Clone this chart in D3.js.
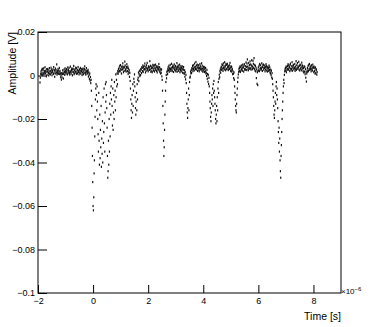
<!DOCTYPE html>
<html>
<head>
<script src="https://cdnjs.cloudflare.com/ajax/libs/d3/7.8.5/d3.min.js"></script>
<style>
    body { margin: 0; background: #fff; }
    text { font-family: "Liberation Sans", Arial, sans-serif; fill: #000; }
</style>
</head>
<body>
<svg width="379" height="327"></svg>
<script>
    // digitizer samples, amplitude in mV, one sample every 12.12 ns
    var samplePeriod = 0.01212; // us

    var base1 = [-3.2,-1.0,0.8, 1.9,0.4,2.6, 1.2,3.1,0.2, 2.4,1.0,3.3, 0.6,2.0,1.4, 3.8,0.9,2.2, 1.6,-0.4,2.9, 0.3,1.8,3.0,
        2.5,1.1,0.0, 1.7,3.4,0.8, 2.2,0.5,1.9, 3.6,1.3,2.7, 0.1,2.1,1.5, 2.8,0.7,3.9, 1.0,2.4,-0.6, 1.9,3.2,0.9,
        2.6,1.4,5.1, 0.4,2.0,1.2, 3.0,0.8,2.3, 1.5,3.5,0.6, 2.1,1.0,-0.8, 0.2,-1.9,1.1, -0.9,0.6,2.4, 1.3,-1.4,0.7,
        2.7,1.6,0.3, 3.3,2.2,1.4, 0.9,3.0,1.8, 2.4,0.5,3.7, 1.1,2.6,1.9, 3.5,1.2,0.4, 2.0,4.1,1.6, 0.8,2.5,3.2,
        1.7,0.1,2.8, 3.1,1.5,4.4, 0.6,2.3,1.0, 2.9,1.8,3.6, 1.4,3.3,0.7, 2.2,1.0,2.6, 3.9,1.6,2.0, 0.5,2.8,1.3,
        2.4,3.5,0.9, 1.8,2.1,3.0, 0.2,1.4,2.7, 3.2,0.6,1.9, 1.1,2.9,4.2, 2.5,1.3,0.4, 1.6,3.4,2.2, 0.8,2.0,1.2,
        2.6,-0.5,1.5, 0.3,-1.6,0.9, -2.4,-0.7,-3.5];
    var pulse1 = [-2,-7,-14, -24,-37,-49, -60,-62,-56, -45,-39,-28, -19,-11,-6,
        -4,-9,-16, -5,-12,-20,
        -27,-35,-8, -30,-41,-18, -38,-25,-33, -14,-42,-29, -36,-21,-40, -10,-31,-26, -6,-22,-35, -17,-4,-12,
        -3,-9,-15,
        -24,-37,-47, -44,-30,-41, -20,-35,-13, -28,-8,-18, -5,-11,-2,
        -14,-23,-6, -25,-17,-9, -20,-3,-12, -7,-16,0.5, -10,-2,-5, 1.0,-4,2.0];
    var base2 = [0.8,2.9,1.7, 3.6,2.2,4.4, 1.9,4.8,3.1, 2.6,0.9,3.9, 4.2,2.8,5.6, 3.3,1.5,4.0,
        2.1,3.7,6.4, 4.6,2.4,3.0, 1.8,3.9,5.2, 3.4,2.0,4.1, 0.7,3.2,1.6, 2.5,-0.6,1.2];
    var pulse2 = [-2.5,-6,-11, -16,-19.5,-13, -9,-17,-4, -14,-7,-1.5, -3,0.5,-5, -10,-15,-18, -12,-8,-16, -4,-11,-2];
    var base3 = [-1.0,1.4,-2.6, 0.6,2.2,-0.3, 1.9,0.2,3.0, 2.7,1.1,3.8,
        3.5,2.0,4.6, 1.6,3.8,2.7, 4.3,2.9,5.5, 3.0,1.4,4.0, 2.2,4.7,3.4, 5.8,3.1,2.5, 1.9,4.2,3.6, 3.9,2.6,6.6,
        2.8,4.5,1.7, 4.1,3.3,2.0, 1.5,3.7,4.9, 3.2,2.3,4.4, 4.8,1.8,3.5, 2.6,5.0,3.0, 3.9,2.1,4.3, 1.4,3.6,2.7,
        4.0,2.9,5.3, 2.3,3.8,1.6, 3.1,0.9,2.4, 1.2,2.8,-0.4];
    var pulse3 = [-2.0,-7,-14, -22,-30,-37, -33,-25,-18, -12,-7,-3];
    var base4 = [0.2,-1.3,1.5, 2.1,0.6,3.0,
        3.8,2.4,4.5, 1.7,3.3,2.6, 4.9,3.0,2.1, 3.6,5.4,2.8, 2.0,3.9,4.6, 3.3,1.6,4.1, 5.1,2.7,3.5, 2.4,4.4,1.9,
        3.7,2.9,5.7, 1.8,4.0,3.1, 4.6,2.2,3.8, 2.9,5.0,1.5, 3.4,2.5,4.3, 1.9,3.6,2.8, 4.2,1.3,3.0, 2.6,3.9,1.1,
        0.8,2.4,-0.6, 1.5,-1.8,0.3];
    var pulse4 = [-3.5,-8,-13, -17,-19.5,-15, -11,-6,-16, -9,-3,-1];
    var base5 = [-0.5,1.8,0.9, 2.5,1.2,3.4,
        3.1,4.4,2.0, 4.8,2.9,3.6, 2.3,5.5,3.8, 4.1,3.0,6.2, 2.7,4.6,3.3, 5.0,2.1,3.9, 3.5,4.7,2.6, 1.9,3.4,5.3,
        4.3,2.8,3.7, 3.0,5.6,2.2, 4.5,3.2,1.7, 2.4,4.0,3.1, 3.8,1.6,2.9, 2.0,3.5,0.9, 1.3,-0.2,2.6, -1.5,0.7,-2.8,
        0.2,-3.9,-1.1];
    var pulse5 = [-5,-8,-12, -15,-19,-21, -17,-13,-9, -11,-6,-14, -4,-8,-2.5, -7,-10,-13, -16,-20,-22,
        -18,-14,-21, -10,-16,-6, -3,-8,-1.5];
    var base6 = [0.4,-0.8,1.9, 2.7,1.3,3.5,
        4.0,2.6,5.1, 3.2,4.7,2.1, 5.6,3.4,4.2, 2.8,6.1,3.7, 4.5,2.4,5.3, 3.1,4.9,2.9, 5.4,3.8,4.4, 2.5,4.1,3.3,
        4.7,3.0,5.8, 3.6,2.2,4.3, 1.8,3.9,2.7, 2.9,0.6,1.9, 0.8,-1.2,1.4];
    var pulse6 = [-2,-5,-8, -11,-14,-16, -17,-13,-9, -6,-3,-1];
    var base7 = [0.5,1.7,2.9, 3.5,2.0,4.2, 1.6,3.8,2.4, 4.6,2.9,3.3, 2.2,5.0,3.9, 3.7,1.8,4.5, 5.2,3.0,2.6,
        2.8,4.3,6.0, 3.9,2.5,5.5, 7.4,4.1,3.2, 2.4,5.8,3.6, 4.8,3.1,6.5, 3.3,5.1,2.7, 4.6,7.0,3.8, 2.9,4.2,6.8,
        5.4,3.5,8.0, 3.0,4.9,2.3, 4.4,1.9,3.6, -1.2,2.8,-3.8, 1.5,-4.4,2.1, 3.7,2.4,4.5, 2.0,5.3,3.1,
        4.7,3.4,2.5, 3.2,5.6,4.0, 2.1,3.8,4.9, 5.0,2.7,3.5, 3.6,4.6,1.9, 2.8,3.9,5.2, 4.3,2.3,3.4, 1.8,4.0,2.9,
        3.5,2.1,4.6, 2.6,3.8,1.5, 1.0,2.7,0.2, 2.2,-0.9,1.1];
    var pulse7 = [-1.5,-4,-7, -10,-14,-18, -19.5,-16,-12, -8,-13,-5, -3,-9,-6, -11,-15,-21, -26,-31,-24,
        -35,-29,-39, -44,-47,-37, -32,-26,-20, -16,-12,-8, -5,-2,-3.5];
    var base8 = [0.3,1.9,2.8, 3.4,2.2,4.1, 1.5,3.7,2.6, 4.4,3.0,5.2, 2.7,4.6,3.3, 3.9,2.0,4.8, 5.5,3.2,2.4,
        3.0,4.3,6.1, 2.2,3.6,4.5, 4.9,2.8,3.7, 3.3,5.3,2.1, 4.1,3.0,6.6, 2.6,4.7,3.4, 5.7,3.1,4.2, 3.8,6.3,2.7,
        4.5,2.3,5.0, 3.2,4.8,3.6, 2.4,5.9,4.0, 4.6,3.1,2.0, 3.5,1.4,4.3, 1.8,3.9,0.6, 2.9,-1.0,1.6, -2.8,0.9,2.3,
        3.4,1.7,4.4, 2.1,4.9,3.0, 5.3,2.6,3.8, 3.1,4.2,1.9, 4.7,2.8,3.5, 2.3,5.0,3.9, 3.6,1.5,4.1, 2.0,3.3,0.8,
        3.7,1.2,2.5, 2.8,0.4,1.6];

    // start time (us) of each block of samples
    var blocks = [
        { start: -1.927, v: base1 }, { start: -0.073, v: pulse1 },
        { start: 0.909, v: base2 },  { start: 1.345, v: pulse2 },
        { start: 1.636, v: base3 },  { start: 2.509, v: pulse3 },
        { start: 2.655, v: base4 },  { start: 3.382, v: pulse4 },
        { start: 3.527, v: base5 },  { start: 4.218, v: pulse5 },
        { start: 4.582, v: base6 },  { start: 5.127, v: pulse6 },
        { start: 5.273, v: base7 },  { start: 6.509, v: pulse7 },
        { start: 6.945, v: base8 }
    ];

    var yTicks = [-0.1, -0.08, -0.06, -0.04, -0.02, 0, 0.02];
    var yTickLabels = ["\u22120.1", "\u22120.08", "\u22120.06", "\u22120.04", "\u22120.02", "0", "0.02"];
    var xTicks = [-2, 0, 2, 4, 6, 8];
    var xTickLabels = ["\u22122", "0", "2", "4", "6", "8"];

    var points = [];
    blocks.forEach(function(b) {
        b.v.forEach(function(mv, i) {
            points.push({ t: b.start + i * samplePeriod, a: mv / 1000 });
        });
    });

    var svg = d3.select("svg");
    var x = d3.scaleLinear().domain([-2, 9]).range([38, 341]);
    var y = d3.scaleLinear().domain([-0.1, 0.02]).range([293, 32]);

    // minor ticks
    var xMinor = d3.range(-2, 9.01, 0.5);
    var yMinor = d3.range(-0.1, 0.0201, 0.005);

    var gx = svg.append("g").attr("transform", "translate(0,293)");
    gx.call(d3.axisBottom(x).tickValues(xMinor).tickSize(-4).tickSizeOuter(0).tickFormat(""));
    gx.call(d3.axisBottom(x).tickValues(xTicks).tickSize(-8).tickSizeOuter(0)
        .tickFormat(function(d, i) { return xTickLabels[i]; }).tickPadding(5));

    var gy = svg.append("g").attr("transform", "translate(38,0)");
    gy.call(d3.axisLeft(y).tickValues(yMinor).tickSize(-4.5).tickSizeOuter(0).tickFormat(""));
    gy.call(d3.axisLeft(y).tickValues(yTicks).tickSize(-9).tickSizeOuter(0)
        .tickFormat(function(d, i) { return yTickLabels[i]; }).tickPadding(3));

    svg.selectAll(".tick line").attr("stroke", "#000");
    svg.selectAll(".domain").remove();
    svg.selectAll(".tick text").style("font-size", "9px").style("font-family", "'Liberation Sans', Arial, sans-serif");

    svg.append("rect")
        .attr("x", 38).attr("y", 32).attr("width", 303).attr("height", 261)
        .attr("fill", "none").attr("stroke", "#000").attr("stroke-width", 1);

    // 1px-ish dots, taller than wide so the noise band fills in
    svg.append("g").selectAll("rect")
        .data(points)
        .enter().append("rect")
        .attr("x", function(d) { return x(d.t) - 0.6; })
        .attr("y", function(d) { return y(d.a) - 1.1; })
        .attr("width", 1.2)
        .attr("height", 2.2)
        .attr("fill", "#111");

    svg.append("text")
        .attr("transform", "translate(15.5,32) rotate(-90)")
        .attr("text-anchor", "end")
        .style("font-size", "10.5px")
        .text("Amplitude [V]");

    svg.append("text")
        .attr("x", 341).attr("y", 320)
        .attr("text-anchor", "end")
        .style("font-size", "10.5px")
        .text("Time [s]");

    var mult = svg.append("text")
        .attr("x", 341).attr("y", 294)
        .style("font-size", "8px");
    mult.append("tspan").text("\u00d710");
    mult.append("tspan").attr("dy", -3).style("font-size", "6px").text("\u22126");
</script>
</body>
</html>
